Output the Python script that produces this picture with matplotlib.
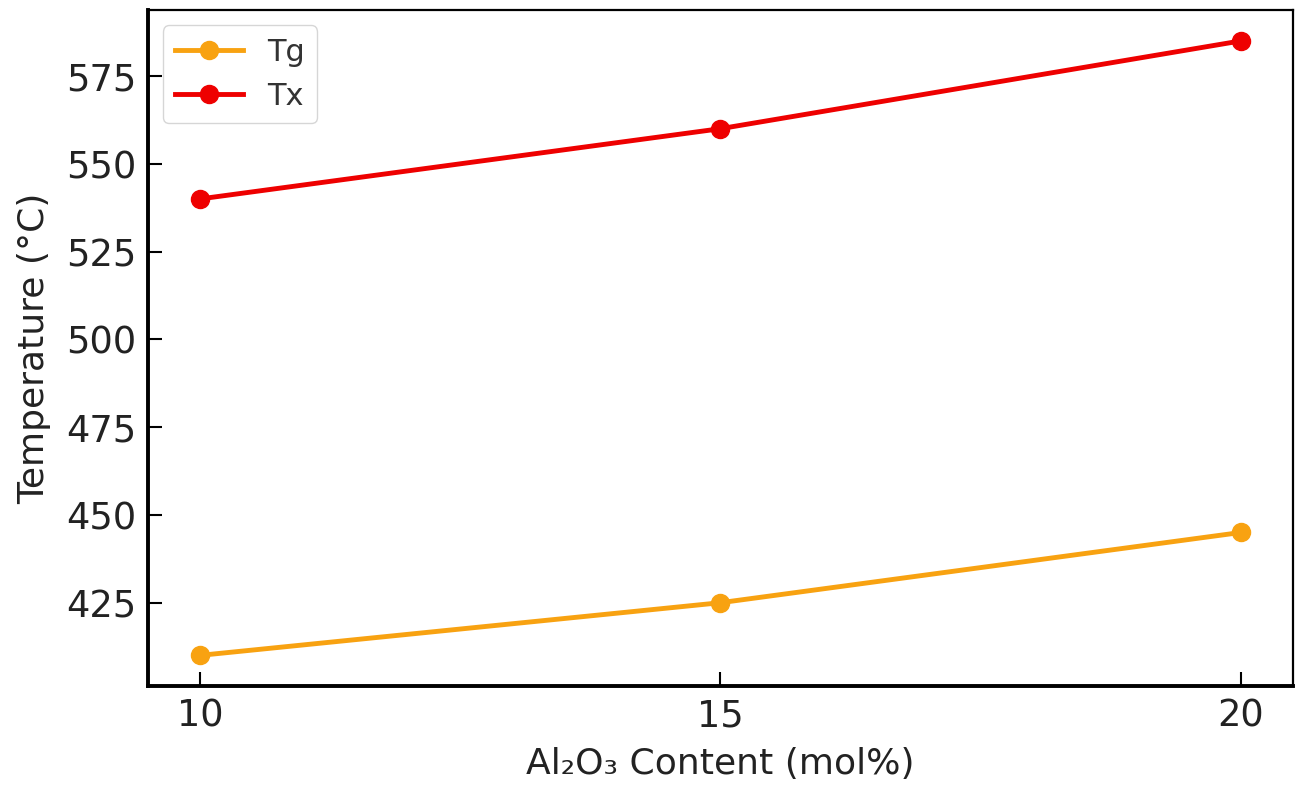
import matplotlib.pyplot as plt

# Data
al2o3_content = [10, 15, 20]
tg_values = [410, 425, 445]
tx_values = [540, 560, 585]

fig = plt.figure(figsize=(12.98, 7.85), dpi=100)
ax = fig.add_axes([0.114, 0.126, 0.882, 0.861])

ax.plot(al2o3_content, tg_values, color="#F8A211", marker="o", linewidth=3.5, markersize=13, label="Tg")
ax.plot(al2o3_content, tx_values, color="#EE0000", marker="o", linewidth=3.5, markersize=13, label="Tx")

ax.set_xticks(al2o3_content)
ax.set_xlabel("Al₂O₃ Content (mol%)", fontsize=26, color="#222222", labelpad=9)
ax.set_ylabel("Temperature (°C)", fontsize=26, color="#222222", labelpad=11)
ax.tick_params(direction="in", labelsize=26.5, length=10, width=1.5, pad=8, labelcolor="#222222")

# thick left/bottom spines, thinner top/right
for side in ["left", "bottom"]:
    ax.spines[side].set_linewidth(2.8)
for side in ["top", "right"]:
    ax.spines[side].set_linewidth(1.6)

leg = ax.legend(loc="upper left", fontsize=22, handlelength=2.2)
for t in leg.get_texts():
    t.set_color("#333333")

fig.savefig("out.png", dpi=100)
